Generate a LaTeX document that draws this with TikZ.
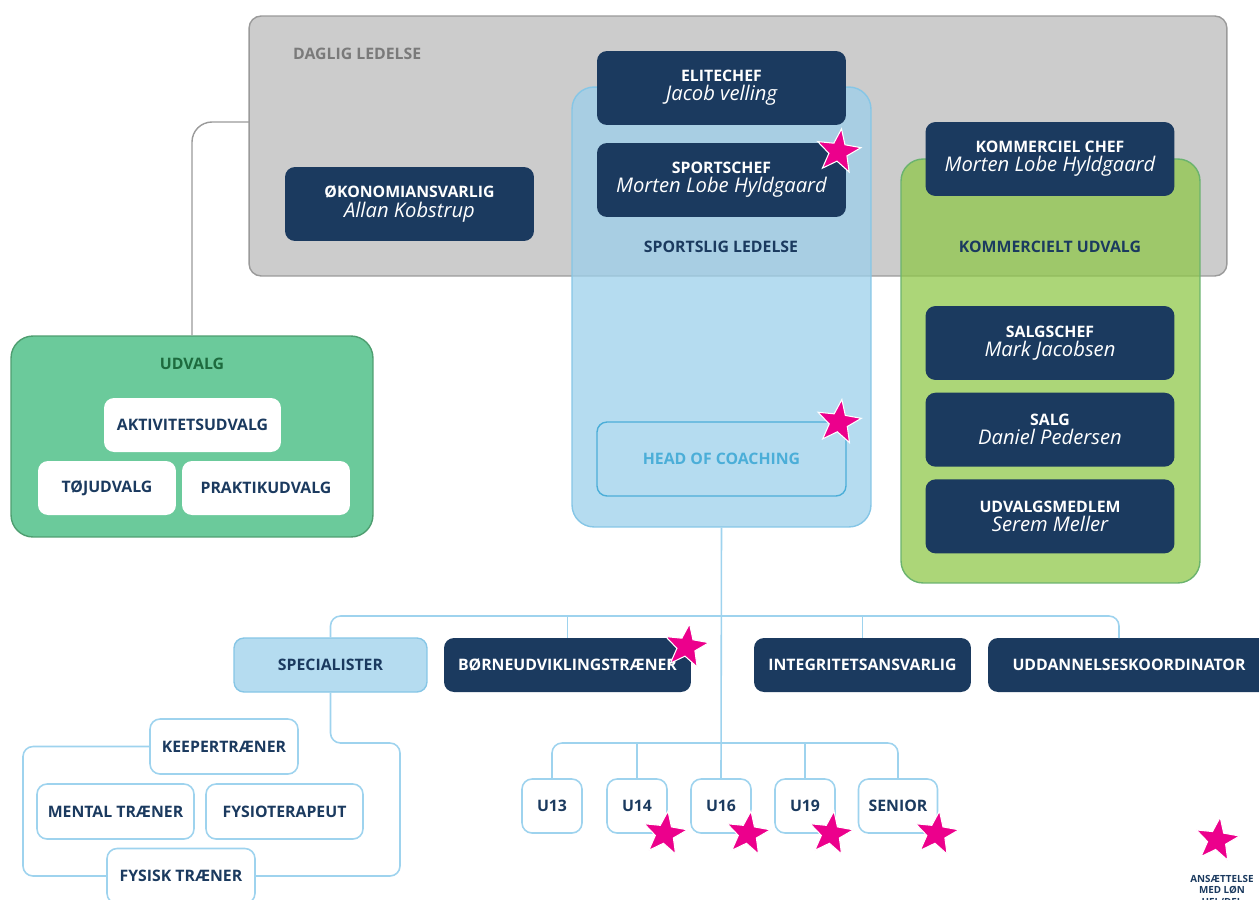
\documentclass[tikz,border=0pt]{standalone}
\usepackage{fontspec}
\setmainfont{Open Sans}
\usetikzlibrary{shapes.geometric,positioning}
\definecolor{navycolor}{RGB}{27,58,95}
\definecolor{graycolor}{RGB}{204,204,204}
\definecolor{grayline}{RGB}{154,154,154}
\definecolor{graytext}{RGB}{122,122,122}
\definecolor{sportcolor}{RGB}{156,208,235}
\definecolor{sportline}{RGB}{134,198,230}
\definecolor{kommcolor}{RGB}{141,199,70}
\definecolor{kommline}{RGB}{107,179,110}
\definecolor{udvcolor}{RGB}{107,202,155}
\definecolor{udvline}{RGB}{78,158,112}
\definecolor{udvtext}{RGB}{29,107,62}
\definecolor{linecolor}{RGB}{158,211,238}
\definecolor{speccolor}{RGB}{181,220,240}
\definecolor{hoccolor}{RGB}{75,174,216}
\definecolor{starcolor}{RGB}{236,0,140}
\newcommand{\navn}[1]{\\[1pt]{\fontsize{11.5}{12}\mdseries\itshape #1}}

\begin{document}
\begin{tikzpicture}[%
    x=0.02cm, y=-0.02cm,        % one unit is one pixel of the chart
    font=\fontsize{9}{10}\selectfont\bfseries,
    node distance=0.24cm,       % gap between stacked boxes
    ]
\tikzset{
  base/.style={align=center, inner sep=2pt, rounded corners=0.2cm},
  lead/.style={base, fill=navycolor, text=white, minimum width=4.98cm, minimum height=1.48cm},
  flat/.style={base, fill=navycolor, text=white, minimum height=1.08cm},
  group/.style={base, rounded corners=0.44cm, line width=0.8pt},
  wbox/.style={base, fill=white, text=navycolor, minimum height=1.08cm},
  outl/.style={base, draw=linecolor, fill=white, text=navycolor, line width=0.9pt, minimum height=1.08cm},
  stjerne/.style={star, star points=5, star point ratio=2.4, fill=starcolor, draw=white,
    line width=0.6pt, minimum size=0.92cm, inner sep=0pt, rotate=-8},
  tree/.style={draw=linecolor, line width=0.9pt, rounded corners=0.2cm},
}
\useasboundingbox (0,0) rectangle (1259,900);

% ledelse
\node [group, fill=graycolor, draw=grayline, minimum width=19.56cm, minimum height=5.2cm,
  rounded corners=0.24cm] (daglig) at (738,146) {};
\node [anchor=west, text=graytext] (dagligtxt) at (287,54) {DAGLIG LEDELSE};
\node [group, fill=sportcolor, fill opacity=0.75, draw=sportline, minimum width=5.98cm,
  minimum height=8.8cm] (sportslig) at (721.5,307) {};
\node [group, fill=kommcolor, fill opacity=0.73, draw=kommline, minimum width=5.98cm,
  minimum height=8.48cm] (kommudv) at (1050.5,371) {};

\node [lead] (okonomi) at (409.5,204) {ØKONOMIANSVARLIG\navn{Allan Kobstrup}};
\node [lead] (elite) at (721.5,88) {ELITECHEF\navn{Jacob velling}};
\node [lead] (sportschef) at (721.5,180) {SPORTSCHEF\navn{Morten Lobe Hyldgaard}};
\node [text=navycolor] (sporttxt) at (721,247) {SPORTSLIG LEDELSE};
\node [base, draw=hoccolor, text=hoccolor, line width=0.8pt, minimum width=4.98cm,
  minimum height=1.48cm] (hoc) at (721.5,459) {HEAD OF COACHING};

\node [lead] (kommchef) at (1050,159) {KOMMERCIEL CHEF\navn{Morten Lobe Hyldgaard}};
\node [text=navycolor] (kommtxt) at (1050,247) {KOMMERCIELT UDVALG};
\node [lead] (salgschef) at (1050,343) {SALGSCHEF\navn{Mark Jacobsen}};
\node [lead, below=of salgschef] (salg) {SALG\navn{Daniel Pedersen}};
\node [lead, below=of salg] (medlem) {UDVALGSMEDLEM\navn{Serem Meller}};

% udvalg
\node [group, fill=udvcolor, draw=udvline, minimum width=7.24cm, minimum height=4.02cm]
  (udvalg) at (192,436.5) {};
\node [text=udvtext] (udvtxt) at (192,364) {UDVALG};
\node [wbox, minimum width=3.54cm] (aktiv) at (192.5,425) {AKTIVITETSUDVALG};
\node [wbox, minimum width=2.76cm] (toj) at (107,488) {TØJUDVALG};
\node [wbox, minimum width=3.36cm] (praktik) at (266,488) {PRAKTIKUDVALG};

% staff row
\node [base, fill=speccolor, draw=sportline, line width=0.8pt, text=navycolor,
  minimum width=3.86cm, minimum height=1.08cm] (spec) at (330.5,665) {SPECIALISTER};
\node [flat, minimum width=4.94cm] (boern) at (567.5,665) {BØRNEUDVIKLINGSTRÆNER};
\node [flat, minimum width=4.34cm] (integ) at (862.5,665) {INTEGRITETSANSVARLIG};
\node [flat, minimum width=5.64cm] (udd) at (1129,665) {UDDANNELSESKOORDINATOR};

\node [outl, minimum width=2.96cm, minimum height=1.1cm] (keeper) at (224,746.5) {KEEPERTRÆNER};
\node [outl, minimum width=3.14cm, minimum height=1.1cm] (mental) at (115.5,811.5) {MENTAL TRÆNER};
\node [outl, minimum width=3.14cm, minimum height=1.1cm] (fysio) at (284.5,811.5) {FYSIOTERAPEUT};
\node [outl, minimum width=2.96cm, minimum height=1.1cm] (fysisk) at (181,876) {FYSISK TRÆNER};

% hold
\node [outl, minimum width=1.2cm] (u13) at (552,806) {U13};
\node [outl, minimum width=1.2cm] (u14) at (637,806) {U14};
\node [outl, minimum width=1.2cm] (u16) at (721,806) {U16};
\node [outl, minimum width=1.2cm] (u19) at (805,806) {U19};
\node [outl, minimum width=1.58cm] (senior) at (898,806) {SENIOR};

\coordinate (dl) at (249,122);
\coordinate (hub1) at (721,616);
\coordinate (hub2) at (721,743);
\coordinate (uddtop) at (1119,638);
\coordinate (vl) at (23,811);
\coordinate (hr) at (400,743);

%connect
\draw [draw=grayline, line width=0.8pt, rounded corners=0.4cm] (dl) -| (udvalg.north);
\draw [tree] (sportslig.south) -- (u16.north);
\draw [tree] (spec.north) |- (hub1) -| (uddtop);
\draw [tree] (boern.north) -- (boern.north |- hub1);
\draw [tree] (integ.north) -- (integ.north |- hub1);
\draw [tree] (u13.north) |- (hub2) -| (senior.north);
\draw [tree] (u14.north) -- (u14.north |- hub2);
\draw [tree] (u19.north) -- (u19.north |- hub2);
\draw [tree] (keeper.west) -| (vl) |- (fysisk.west);
\draw [tree] (spec.south) |- (hr) |- (fysisk.east);

% stars
\node [stjerne] (st1) at ([xshift=-0.16cm,yshift=-0.18cm]sportschef.north east) {};
\node [stjerne] (st2) at ([xshift=-0.16cm,yshift=-0.02cm]hoc.north east) {};
\node [stjerne] (st3) at ([xshift=-0.1cm,yshift=-0.18cm]boern.north east) {};
\node [stjerne] (st4) at ([xshift=-0.06cm]u14.south east) {};
\node [stjerne] (st5) at ([xshift=-0.08cm]u16.south east) {};
\node [stjerne] (st6) at ([xshift=-0.1cm]u19.south east) {};
\node [stjerne] (st7) at ([xshift=-0.04cm]senior.south east) {};

% legend
\node [stjerne] (legstar) at (1217,840) {};
\node [anchor=north, align=center, text=navycolor, font=\fontsize{5.6}{6.6}\selectfont\bfseries]
  (legtxt) at (1222,869) {ANSÆTTELSE\\MED LØN\\HEL/DEL};
\end{tikzpicture}
\end{document}
